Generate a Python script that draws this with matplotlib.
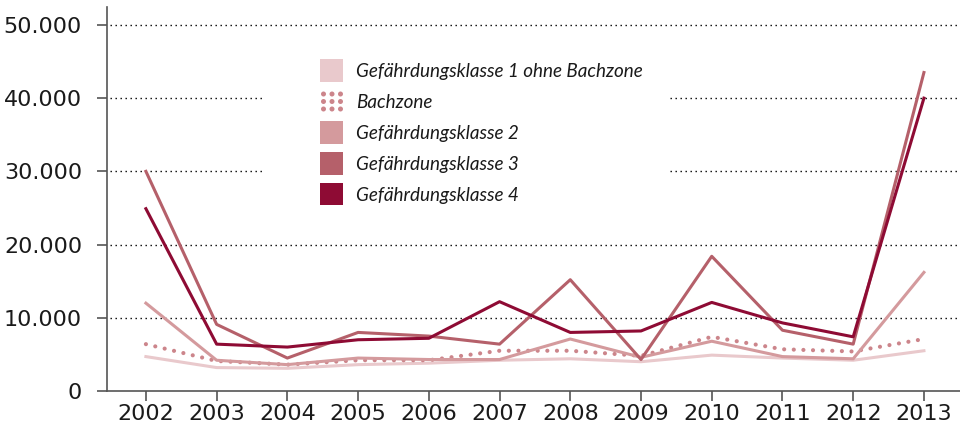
import matplotlib
matplotlib.use("Agg")
import matplotlib.pyplot as plt
from matplotlib.patches import Rectangle, Ellipse
from matplotlib.ticker import FuncFormatter

# Data
years = [2002, 2003, 2004, 2005, 2006, 2007, 2008, 2009, 2010, 2011, 2012, 2013]
gk1_ohne_bach = [4700, 3200, 3100, 3600, 3800, 4200, 4400, 4000, 4900, 4500, 4200, 5500]
bachzone = [6400, 4100, 3600, 4200, 4200, 5500, 5500, 4800, 7400, 5700, 5400, 7100]
gk2 = [12000, 4200, 3600, 4500, 4300, 4300, 7100, 4600, 6800, 4700, 4400, 16200]
gk3 = [30000, 9100, 4500, 8000, 7500, 6400, 15200, 4300, 18400, 8300, 6400, 43500]
gk4 = [24900, 6400, 6000, 7000, 7200, 12200, 8000, 8200, 12100, 9300, 7400, 40000]
yticks = [0, 10000, 20000, 30000, 40000, 50000]

labels = ["Gefährdungsklasse 1 ohne Bachzone", "Bachzone",
          "Gefährdungsklasse 2", "Gefährdungsklasse 3", "Gefährdungsklasse 4"]
c_gk1 = "#e9c9cc"
c_bach = "#cc858b"
c_gk2 = "#d49a9d"
c_gk3 = "#b5606a"
c_gk4 = "#8e0b34"

W, H = 960, 436
fig = plt.figure(figsize=(W / 100, H / 100), dpi=100)
ax = fig.add_axes([107 / W, (H - 391) / H, (W - 107) / W, (391 - 7) / H])

def fx(px):
    return px / W

def fy(py):
    return 1 - py / H

ax.set_xlim(2001.45, 2013.51)
ax.set_ylim(0, 52450)

# dotted grid
for v in yticks[1:]:
    ax.axhline(v, color="black", lw=1.0, ls=(0, (1, 2.6)), zorder=1, xmin=0.004)

# white area behind the legend
ax.add_patch(Rectangle((fx(262), fy(215)), fx(668 - 262), (170) / H,
                       transform=fig.transFigure, facecolor="white",
                       edgecolor="none", zorder=2))

lw = 2.2
ax.plot(years, gk1_ohne_bach, color=c_gk1, lw=lw, zorder=3)
ax.plot(years, bachzone, color=c_bach, lw=3.0, ls=(0, (0.01, 2.3)),
        dash_capstyle="round", zorder=3)
ax.plot(years, gk2, color=c_gk2, lw=lw, zorder=3)
ax.plot(years, gk3, color=c_gk3, lw=lw, zorder=3)
ax.plot(years, gk4, color=c_gk4, lw=lw, zorder=3)

# axes styling
for s in ["top", "right"]:
    ax.spines[s].set_visible(False)
for s in ["left", "bottom"]:
    ax.spines[s].set_color("#555555")
    ax.spines[s].set_linewidth(1.2)

ax.set_xticks(years)
ax.set_xticklabels([str(y) for y in years])
ax.set_yticks(yticks)
ax.yaxis.set_major_formatter(FuncFormatter(lambda v, p: f"{int(v):,}".replace(",", ".")))
ax.tick_params(axis="y", length=7.5, width=1.2, color="#555555", pad=10.5,
               labelsize=16, labelcolor="#1a1a1a")
ax.tick_params(axis="x", length=7, width=1.2, color="#555555", pad=2.5,
               labelsize=16, labelcolor="#1a1a1a")

# legend
rows = [70.5, 101.5, 132, 163, 194]
colors = [c_gk1, None, c_gk2, c_gk3, c_gk4]
for lab, cy, col in zip(labels, rows, colors):
    if col is None:
        for dx in (323.5, 332, 340.5):
            for dy in (-7.5, 0, 7.5):
                fig.patches.append(Ellipse((fx(dx), fy(cy + dy)), 5 / W, 5 / H,
                                           transform=fig.transFigure,
                                           facecolor=c_bach, edgecolor="none",
                                           zorder=4))
    else:
        fig.patches.append(Rectangle((fx(320), fy(cy + 11.5)), 23 / W, 23 / H,
                                     transform=fig.transFigure, facecolor=col,
                                     edgecolor="none", zorder=4))
    fig.text(fx(356), fy(cy + 1.5), lab, fontsize=13.6, style="italic",
             family="Lato", color="#1a1a1a", va="center", ha="left")

fig.savefig("out.png", dpi=100)
